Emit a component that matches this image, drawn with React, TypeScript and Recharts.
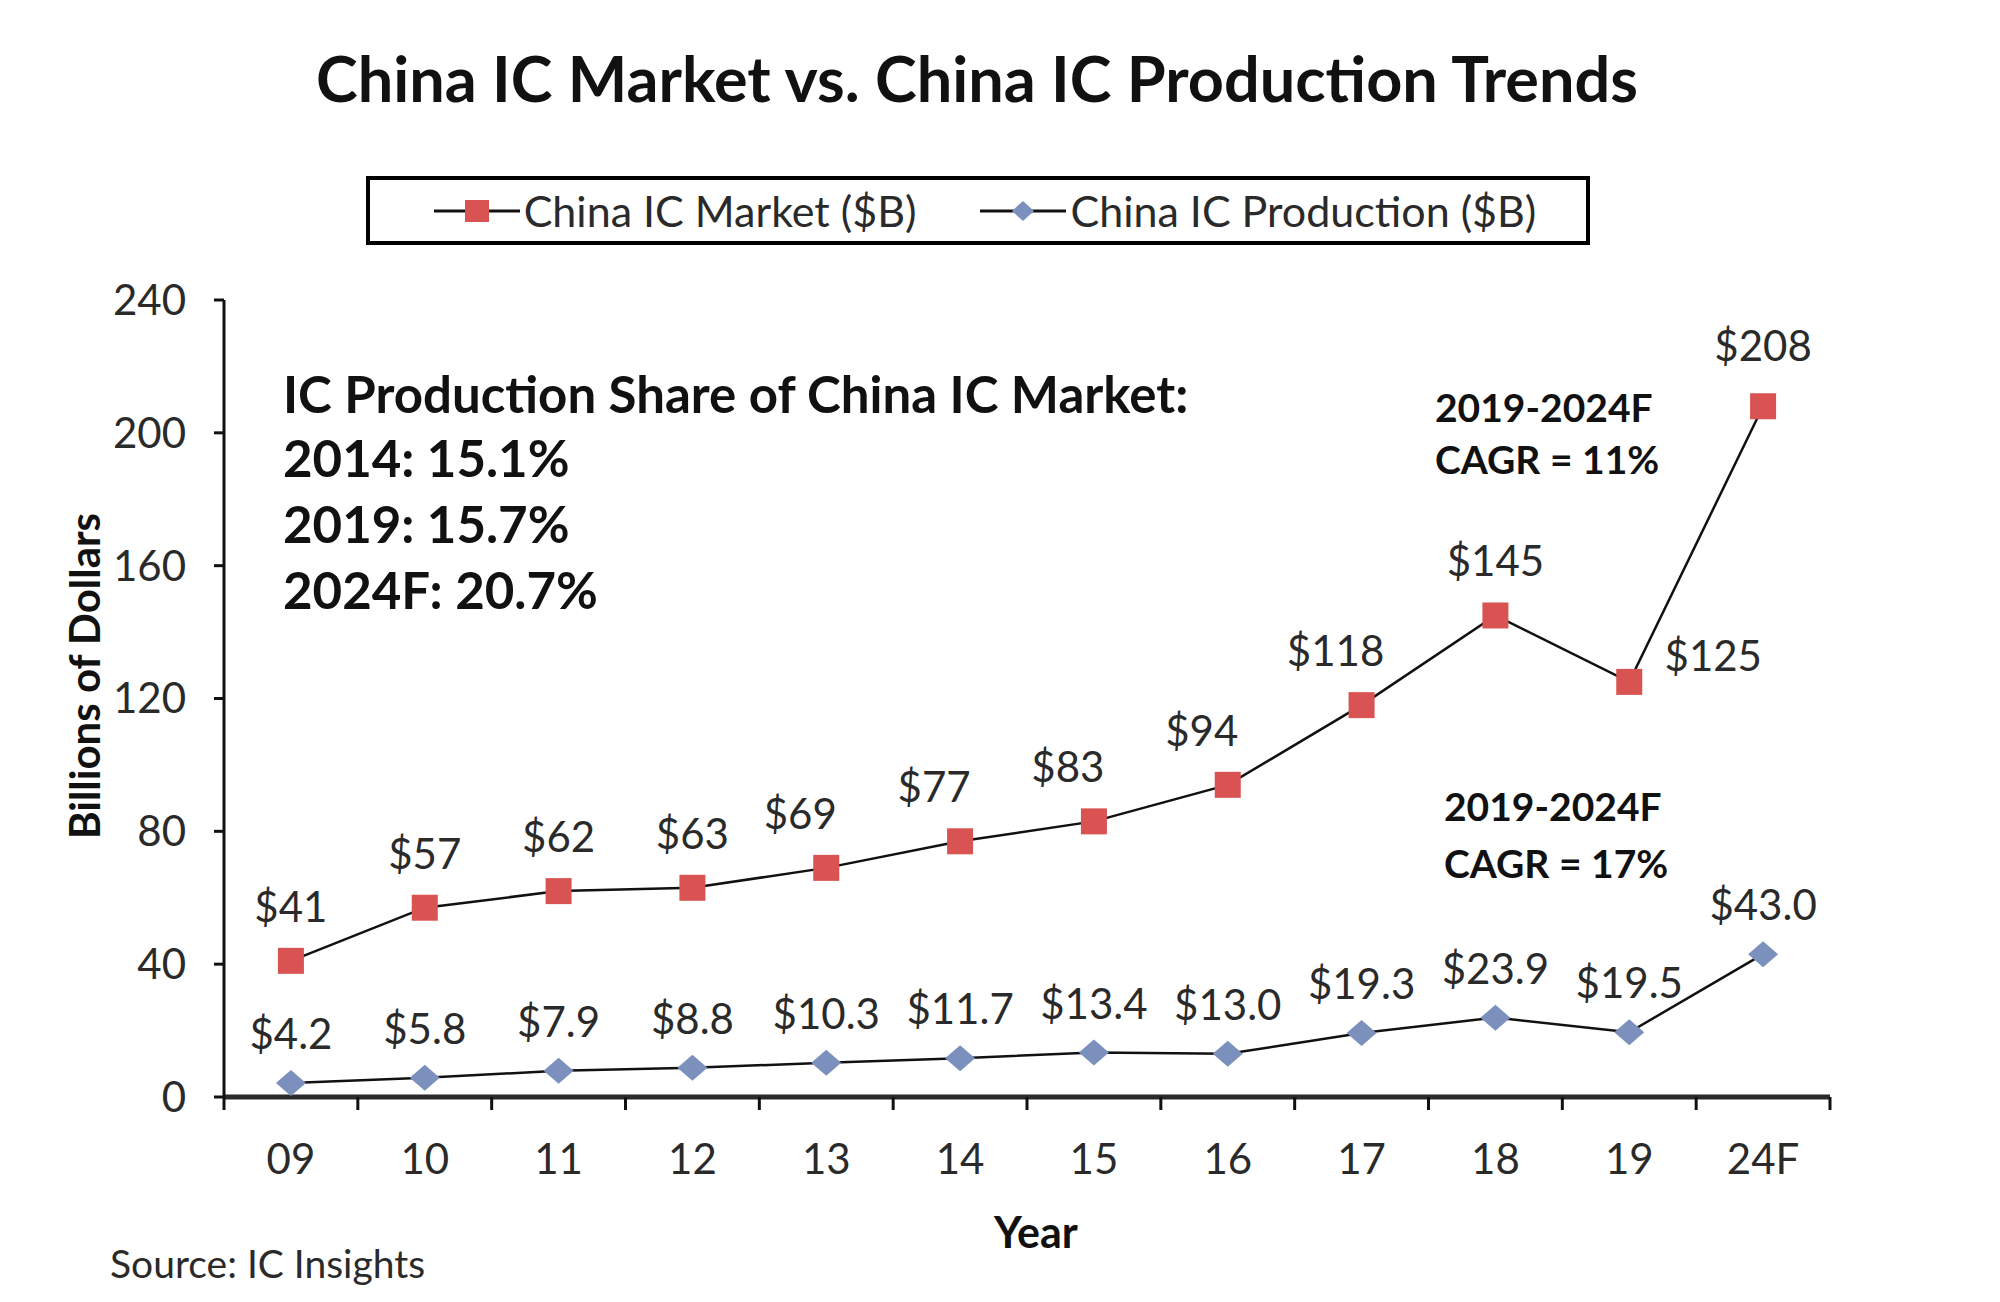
import React from 'react';
import { ComposedChart, Line, XAxis, YAxis, Legend, LabelList } from 'recharts';

const years = ['09', '10', '11', '12', '13', '14', '15', '16', '17', '18', '19', '24F'];
const marketValues = [41, 57, 62, 63, 69, 77, 83, 94, 118, 145, 125, 208];
const productionValues = [4.2, 5.8, 7.9, 8.8, 10.3, 11.7, 13.4, 13.0, 19.3, 23.9, 19.5, 43.0];
const yTicks = [0, 40, 80, 120, 160, 200, 240];

const marketName = 'China IC Market ($B)';
const productionName = 'China IC Production ($B)';
const titleText = 'China IC Market vs. China IC Production Trends';
const shareLines = ['IC Production Share of China IC Market:', '2014: 15.1%', '2019: 15.7%', '2024F: 20.7%'];
const cagrMarket = ['2019-2024F', 'CAGR = 11%'];
const cagrProduction = ['2019-2024F', 'CAGR = 17%'];

const data = years.map((y, i) => ({ year: y, market: marketValues[i], production: productionValues[i] }));

const FONT = "Lato, 'Open Sans', sans-serif";
const RED = '#D95352';
const BLUE = '#7C90BE';
const TEXT = '#2a2a2a';

const SquareDot = (props: any) => {
  const { cx, cy, index } = props;
  if (cx == null || cy == null) return null;
  return <rect key={`sq-${index}`} x={cx - 13} y={cy - 13} width={26} height={26} fill={RED} />;
};

const DiamondDot = (props: any) => {
  const { cx, cy, index } = props;
  if (cx == null || cy == null) return null;
  return (
    <polygon
      key={`dm-${index}`}
      points={`${cx - 15},${cy} ${cx},${cy - 13} ${cx + 15},${cy} ${cx},${cy + 13}`}
      fill={BLUE}
    />
  );
};

const MarketLabel = (props: any) => {
  const { x, y, value, index } = props;
  let tx = x;
  let ty = y - 55;
  if (index >= 4 && index <= 8) tx = x - 26;
  if (index === 11) ty = y - 61;
  if (index === 10) {
    tx = x + 84;
    ty = y - 27;
  }
  return (
    <text x={tx} y={ty} textAnchor="middle" dominantBaseline="central" fontSize={42} fontFamily={FONT} fill={TEXT}>
      {`$${value}`}
    </text>
  );
};

const ProductionLabel = (props: any) => {
  const { x, y, value } = props;
  return (
    <text x={x} y={y - 50} textAnchor="middle" dominantBaseline="central" fontSize={42} fontFamily={FONT} fill={TEXT}>
      {`$${Number(value).toFixed(1)}`}
    </text>
  );
};

const CategoryTick = (props: any) => {
  const { x, y, payload, index, width, visibleTicksCount } = props;
  const bw = width && visibleTicksCount ? width / visibleTicksCount : (payload?.offset || 0) * 2;
  return (
    <g>
      <line x1={x - bw / 2} y1={y} x2={x - bw / 2} y2={y + 13} stroke="#111" strokeWidth={3} />
      {index === visibleTicksCount - 1 && (
        <line x1={x + bw / 2} y1={y} x2={x + bw / 2} y2={y + 13} stroke="#111" strokeWidth={3} />
      )}
      <text x={x} y={y + 61} textAnchor="middle" dominantBaseline="central" fontSize={42} fontFamily={FONT} fill={TEXT}>
        {payload.value}
      </text>
    </g>
  );
};

const LegendIcon = ({ kind }: { kind: string }) => (
  <svg width={86} height={40} style={{ display: 'block' }}>
    <line x1={0} y1={20} x2={86} y2={20} stroke="#111" strokeWidth={3} />
    {kind === 'market' ? (
      <rect x={31} y={9} width={24} height={22} fill={RED} />
    ) : (
      <polygon points="32,20 43,10 54,20 43,30" fill={BLUE} />
    )}
  </svg>
);

const LegendContent = () => (
  <div
    style={{
      boxSizing: 'border-box',
      width: '100%',
      height: '100%',
      border: '4px solid #000',
      display: 'flex',
      alignItems: 'center',
      justifyContent: 'center',
      paddingLeft: 14,
      fontFamily: FONT,
      fontSize: 43,
      color: TEXT,
    }}
  >
    <div style={{ display: 'flex', alignItems: 'center' }}>
      <LegendIcon kind="market" />
      <span style={{ marginLeft: 4 }}>{marketName}</span>
    </div>
    <div style={{ display: 'flex', alignItems: 'center', marginLeft: 64 }}>
      <LegendIcon kind="production" />
      <span style={{ marginLeft: 4 }}>{productionName}</span>
    </div>
  </div>
);

export default function App() {
  return (
    <div style={{ position: 'absolute', left: 0, top: 0, width: 2000, height: 1302, background: '#fff' }}>
      <ComposedChart
        width={2000}
        height={1302}
        data={data}
        margin={{ top: 300, right: 170, bottom: 105, left: 124 }}
      >
        <XAxis
          dataKey="year"
          scale="band"
          height={100}
          axisLine={{ stroke: '#2a2a2a', strokeWidth: 5 }}
          tickLine={false}
          tickSize={0}
          tickMargin={0}
          interval={0}
          tick={<CategoryTick />}
        />
        <YAxis
          domain={[0, 240]}
          ticks={yTicks}
          interval={0}
          width={100}
          tickSize={10}
          tickMargin={28}
          axisLine={{ stroke: '#111', strokeWidth: 3 }}
          tickLine={{ stroke: '#111', strokeWidth: 3 }}
          tick={{ fontSize: 42, fontFamily: FONT, fill: TEXT }}
        />
        <Legend
          layout="horizontal"
          verticalAlign="middle"
          align="center"
          wrapperStyle={{ left: 366, top: 176, width: 1224, height: 69 }}
          content={<LegendContent />}
        />
        <Line
          name={marketName}
          dataKey="market"
          stroke="#111"
          strokeWidth={2.5}
          dot={<SquareDot />}
          activeDot={false}
          isAnimationActive={false}
        >
          <LabelList dataKey="market" content={<MarketLabel />} />
        </Line>
        <Line
          name={productionName}
          dataKey="production"
          stroke="#111"
          strokeWidth={2.5}
          dot={<DiamondDot />}
          activeDot={false}
          isAnimationActive={false}
        >
          <LabelList dataKey="production" content={<ProductionLabel />} />
        </Line>
      </ComposedChart>
      <svg
        width={2000}
        height={1302}
        style={{ position: 'absolute', left: 0, top: 0, pointerEvents: 'none' }}
        fontFamily={FONT}
      >
        <text x={977} y={77} textAnchor="middle" dominantBaseline="central" fontSize={63} fontWeight={700} fill="#111">
          {titleText}
        </text>
        {shareLines.map((t, i) => (
          <text key={t} x={283} y={[393, 457, 523, 589][i]} dominantBaseline="central" fontSize={51} fontWeight={700} fill="#111">
            {t}
          </text>
        ))}
        {cagrMarket.map((t, i) => (
          <text key={`m${i}`} x={1435} y={[407, 459][i]} dominantBaseline="central" fontSize={39} fontWeight={700} fill="#111">
            {t}
          </text>
        ))}
        {cagrProduction.map((t, i) => (
          <text key={`p${i}`} x={1444} y={[806, 863][i]} dominantBaseline="central" fontSize={39} fontWeight={700} fill="#111">
            {t}
          </text>
        ))}
        <text
          x={84}
          y={676}
          textAnchor="middle"
          dominantBaseline="central"
          fontSize={42}
          fontWeight={700}
          fill="#111"
          transform="rotate(-90 84 676)"
        >
          Billions of Dollars
        </text>
        <text x={1036} y={1231} textAnchor="middle" dominantBaseline="central" fontSize={43} fontWeight={700} fill="#111">
          Year
        </text>
        <text x={110} y={1263} dominantBaseline="central" fontSize={39} fill={TEXT}>
          Source: IC Insights
        </text>
      </svg>
    </div>
  );
}
